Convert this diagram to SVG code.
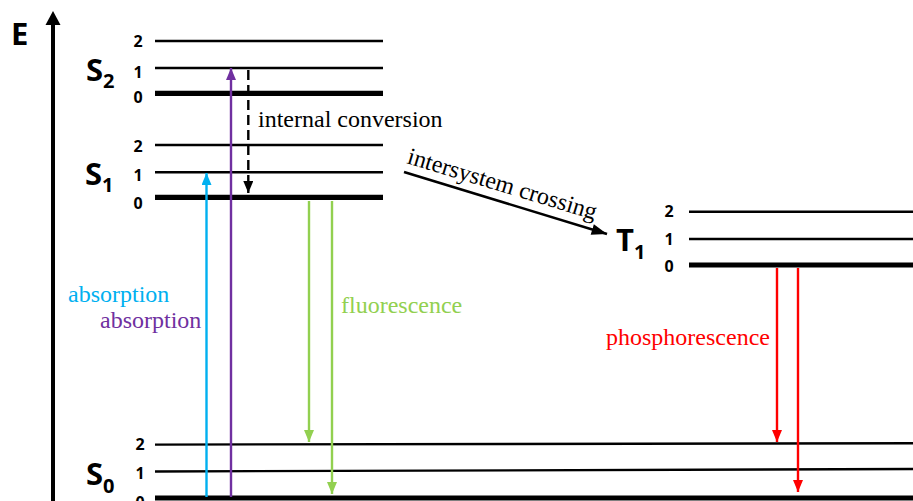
<svg xmlns="http://www.w3.org/2000/svg" width="913" height="501" viewBox="0 0 913 501">
  <style>
    .lvl { stroke: #000; stroke-width: 2.4; fill: none; }
    .lvl0 { stroke: #000; stroke-width: 5.2; fill: none; }
    .num { font-family: "Open Sans", "Liberation Sans", sans-serif; font-weight: 700; font-size: 16px; fill: #000; text-anchor: middle; }
    .state { font-family: "Open Sans", "Liberation Sans", sans-serif; font-weight: 700; font-size: 31px; fill: #000; }
    .sub { font-size: 20px; }
    .lbl { font-family: "Liberation Serif", "DejaVu Serif", "Times New Roman", serif; font-size: 24px; }
    .tr { stroke-width: 2.4; fill: none; }
  </style>
  <defs>
    <marker id="hBlack" viewBox="0 0 12 10" refX="12" refY="5" markerWidth="12" markerHeight="10" markerUnits="userSpaceOnUse" orient="auto"><path d="M0,0 L12,5 L0,10 z" fill="#000"/></marker>
    <marker id="hBlue" viewBox="0 0 12 10" refX="12" refY="5" markerWidth="12" markerHeight="10" markerUnits="userSpaceOnUse" orient="auto"><path d="M0,0 L12,5 L0,10 z" fill="#00B0F0"/></marker>
    <marker id="hPurple" viewBox="0 0 12 10" refX="12" refY="5" markerWidth="12" markerHeight="12" markerUnits="userSpaceOnUse" orient="auto"><path d="M0,0 L12,5 L0,10 z" fill="#7030A0"/></marker>
    <marker id="hGreen" viewBox="0 0 12 10" refX="12" refY="5" markerWidth="12" markerHeight="10" markerUnits="userSpaceOnUse" orient="auto"><path d="M0,0 L12,5 L0,10 z" fill="#92D050"/></marker>
    <marker id="hRed" viewBox="0 0 12 10" refX="12" refY="5" markerWidth="12" markerHeight="10" markerUnits="userSpaceOnUse" orient="auto"><path d="M0,0 L12,5 L0,10 z" fill="#FF0000"/></marker>
    <marker id="hIsc" viewBox="0 0 14 10" refX="14" refY="5" markerWidth="16" markerHeight="11" markerUnits="userSpaceOnUse" orient="auto"><path d="M0,0 L14,5 L0,10 z" fill="#000"/></marker>
  </defs>

  <rect width="913" height="501" fill="#fff"/>

  <!-- energy axis -->
  <g id="axis">
    <line x1="53" y1="501" x2="53" y2="24" stroke="#000" stroke-width="4"/>
    <path d="M53,11 L60.5,25 L45.5,25 z" fill="#000"/>
    <text x="11" y="45" class="state" font-size="34">E</text>
  </g>

  <!-- S2 manifold -->
  <g id="S2">
    <line class="lvl" x1="155" y1="41" x2="383" y2="41"/>
    <line class="lvl" x1="155" y1="68" x2="383" y2="68"/>
    <line class="lvl0" x1="155" y1="93.3" x2="383" y2="93.3"/>
    <text class="num" x="138" y="47">2</text>
    <text class="num" x="138" y="78">1</text>
    <text class="num" x="138" y="103">0</text>
    <text class="state" x="86" y="81">S<tspan class="sub" dy="7">2</tspan></text>
  </g>

  <!-- S1 manifold -->
  <g id="S1">
    <line class="lvl" x1="155" y1="145" x2="383" y2="145"/>
    <line class="lvl" x1="155" y1="172.3" x2="383" y2="172.3"/>
    <line class="lvl0" x1="155" y1="197.3" x2="383" y2="197.3"/>
    <text class="num" x="138" y="152">2</text>
    <text class="num" x="138" y="181">1</text>
    <text class="num" x="138" y="209">0</text>
    <text class="state" x="85" y="185">S<tspan class="sub" dy="7">1</tspan></text>
  </g>

  <!-- T1 manifold -->
  <g id="T1">
    <line class="lvl" x1="689" y1="211.7" x2="913" y2="211.7"/>
    <line class="lvl" x1="689" y1="239" x2="913" y2="239"/>
    <line class="lvl0" x1="689" y1="265" x2="913" y2="265"/>
    <text class="num" x="669" y="217">2</text>
    <text class="num" x="669" y="245">1</text>
    <text class="num" x="669" y="272">0</text>
    <text class="state" x="616" y="251">T<tspan class="sub" dy="8">1</tspan></text>
  </g>

  <!-- S0 manifold -->
  <g id="S0">
    <line class="lvl" x1="155" y1="444.6" x2="913" y2="443.2"/>
    <line class="lvl" x1="155" y1="471.5" x2="913" y2="469"/>
    <line class="lvl0" x1="155" y1="498" x2="913" y2="498"/>
    <text class="num" x="140" y="450">2</text>
    <text class="num" x="140" y="479">1</text>
    <text class="num" x="140" y="508">0</text>
    <text class="state" x="86" y="485">S<tspan class="sub" dy="8">0</tspan></text>
  </g>

  <!-- transitions -->
  <g id="connectors">
    <line class="tr" x1="206.5" y1="497" x2="206.5" y2="173" stroke="#00B0F0" marker-end="url(#hBlue)"/>
    <line class="tr" x1="231" y1="497" x2="231" y2="68" stroke="#7030A0" marker-end="url(#hPurple)"/>
    <line class="tr" x1="248.3" y1="70" x2="248.3" y2="193" stroke="#000" stroke-width="2.6" stroke-dasharray="10 5" marker-end="url(#hBlack)"/>
    <line class="tr" x1="309" y1="201" x2="309" y2="442" stroke="#92D050" marker-end="url(#hGreen)"/>
    <line class="tr" x1="332" y1="201" x2="332" y2="494" stroke="#92D050" marker-end="url(#hGreen)"/>
    <line class="tr" x1="777" y1="268" x2="777" y2="442" stroke="#FF0000" marker-end="url(#hRed)"/>
    <line class="tr" x1="798" y1="268" x2="798" y2="492" stroke="#FF0000" marker-end="url(#hRed)"/>
    <line x1="404" y1="172" x2="607" y2="234" stroke="#000" stroke-width="2.6" marker-end="url(#hIsc)"/>
  </g>

  <!-- transition labels -->
  <g id="labels">
    <text class="lbl" x="258" y="127" fill="#000">internal conversion</text>
    <text class="lbl" transform="translate(406,163) rotate(16.8)" fill="#000">intersystem crossing</text>
    <text class="lbl" x="68" y="302" fill="#00B0F0">absorption</text>
    <text class="lbl" x="100" y="328" fill="#7030A0">absorption</text>
    <text class="lbl" x="341" y="313" fill="#92D050">fluorescence</text>
    <text class="lbl" x="606" y="345" fill="#FF0000">phosphorescence</text>
  </g>
</svg>
